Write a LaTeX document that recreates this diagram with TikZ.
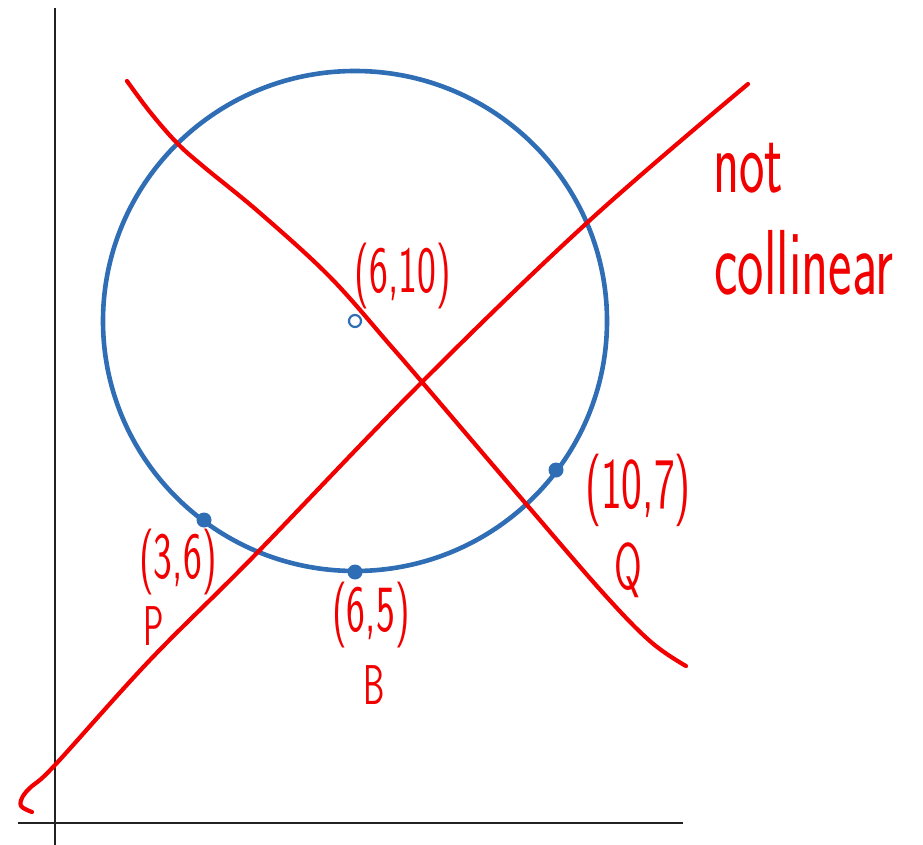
\documentclass[tikz,border=0pt]{standalone}
\usepackage{graphicx}
\usetikzlibrary{calc}
\definecolor{axisgray}{HTML}{222222}
\definecolor{circblue}{HTML}{2F6DB5}
\definecolor{penred}{HTML}{F20000}
\tikzset{
  axisline/.style={draw=axisgray,line width=1.8pt},
  circline/.style={draw=circblue,line width=4.6pt},
  penline/.style={draw=penred,line width=4.2pt,line cap=round,line join=round},
  ptdot/.style={circle,fill=circblue,inner sep=0pt,minimum size=15pt},
  ptopen/.style={circle,draw=circblue,fill=white,line width=2.2pt,inner sep=0pt,minimum size=12pt},
  penlabel/.style={text=penred,font=\sffamily\fontsize{40}{42}\selectfont,inner sep=0pt}
}
\newcommand{\tallhand}[1]{\scalebox{1}[1.65]{#1}}

\begin{document}
\begin{tikzpicture}[x=1pt,y=-1pt]
  \useasboundingbox (0,0) rectangle (923,845);
  \draw[axisline] (55,8) -- (55,845);
  \draw[axisline] (18,823) -- (683,823);

  \coordinate (ctr) at (355,321);
  \draw[circline] (ctr) circle [x radius=252,y radius=250];

  \draw[penline] plot[smooth,tension=0.6] coordinates {(32,812) (21,806) (23,796) (32,786) (55,765)
    (150,660) (254,556) (422,382) (589,221) (748,84)};
  \draw[penline] plot[smooth,tension=0.6] coordinates {(127,81) (150,112) (177,143) (204,167)
    (260,213) (330,277) (390,345) (422,382) (527,505) (604,594) (651,642) (686,666)};

  \node[ptopen] (cen) at (ctr) {};
  \node[ptdot] (pP) at (204,520) {};
  \node[ptdot] (pB) at (355,572) {};
  \node[ptdot] (pQ) at (556,470) {};

  \node[penlabel] (lcen) at (403,276) {\tallhand{(6,10)}};
  \node[penlabel] (lP) at (178,562) {\tallhand{(3,6)}};
  \node[penlabel,font=\sffamily\fontsize{34}{36}\selectfont] (nP) at (154,626) {\tallhand{P}};
  \node[penlabel] (lB) at (371,615) {\tallhand{(6,5)}};
  \node[penlabel,font=\sffamily\fontsize{34}{36}\selectfont] (nB) at (374,685) {\tallhand{B}};
  \node[penlabel,font=\sffamily\fontsize{44}{46}\selectfont] (lQ) at (638,490) {\tallhand{(10,7)}};
  \node[penlabel,font=\sffamily\fontsize{40}{42}\selectfont] (nQ) at (628,570) {\tallhand{Q}};
  \node[penlabel,font=\sffamily\fontsize{54}{56}\selectfont] (lnot) at (748,168) {\tallhand{not}};
  \node[penlabel,font=\sffamily\fontsize{56}{58}\selectfont] (lcol) at (804,263) {\tallhand{collinear}};
\end{tikzpicture}
\end{document}
